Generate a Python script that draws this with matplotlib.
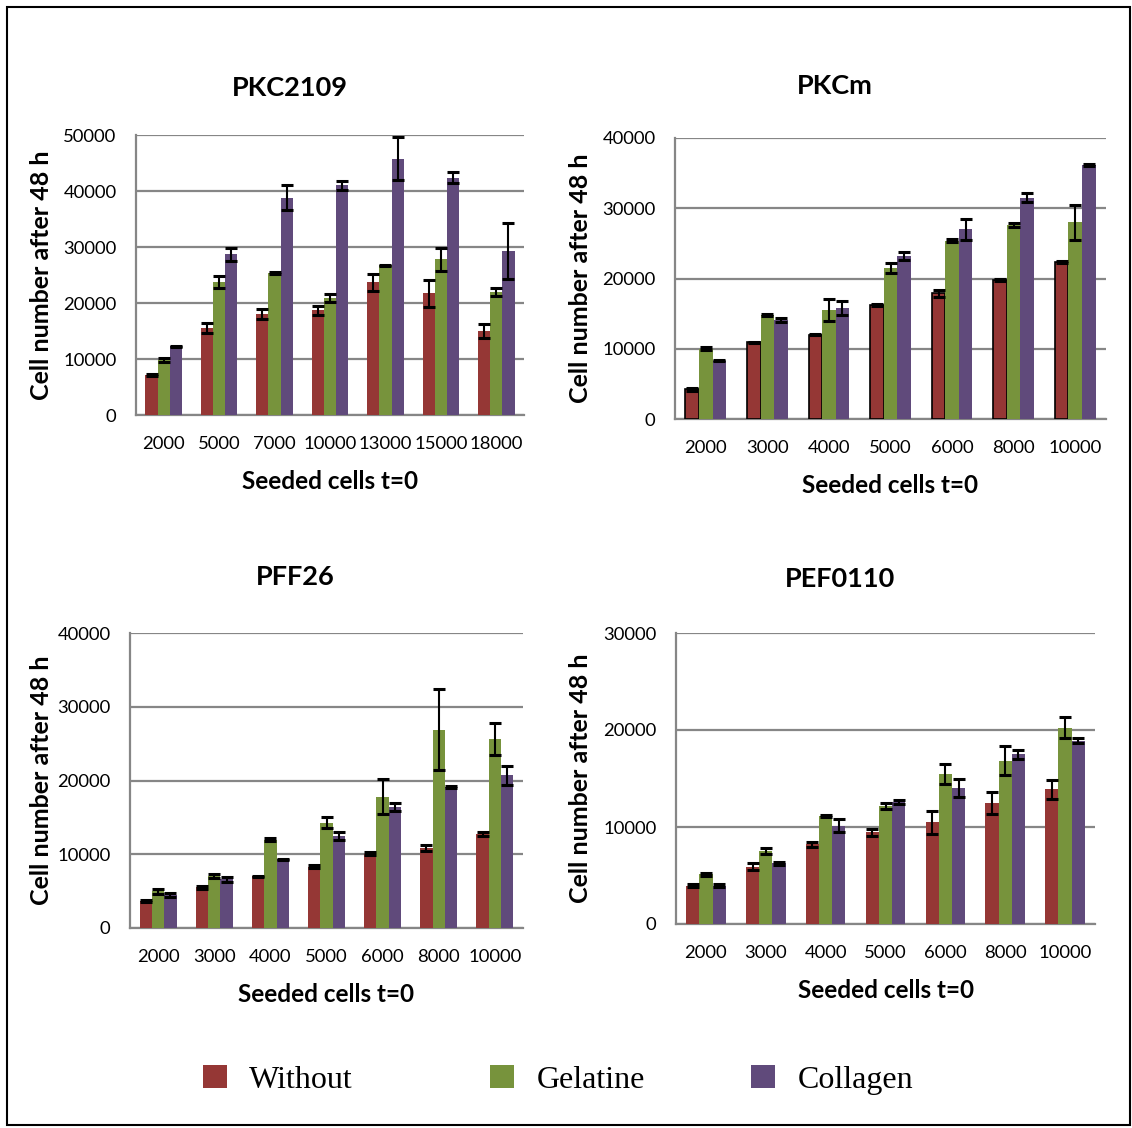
import numpy as np
import matplotlib
matplotlib.use("Agg")
import matplotlib.pyplot as plt
from matplotlib.patches import Rectangle

plt.rcParams['font.family'] = ['Lato', 'DejaVu Sans']

series = ['Without', 'Gelatine', 'Collagen']
colors = ['#953735', '#77933C', '#604A7B']

# PKC2109
pkc2109_x = ['2000', '5000', '7000', '10000', '13000', '15000', '18000']
pkc2109_without = [7100, 15500, 18000, 18700, 23700, 21700, 15000]
pkc2109_gelatine = [9800, 23800, 25300, 20900, 26700, 27800, 21900]
pkc2109_collagen = [12300, 28700, 38800, 41000, 45800, 42400, 29300]
pkc2109_without_err = [150, 900, 900, 770, 1550, 2450, 1200]
pkc2109_gelatine_err = [300, 1100, 200, 650, 150, 2000, 700]
pkc2109_collagen_err = [100, 1150, 2250, 850, 3850, 1000, 5000]

# PKCm
pkcm_x = ['2000', '3000', '4000', '5000', '6000', '8000', '10000']
pkcm_without = [4200, 10900, 12000, 16200, 17900, 19800, 22400]
pkcm_gelatine = [10000, 14800, 15500, 21500, 25400, 27600, 28000]
pkcm_collagen = [8300, 14100, 15800, 23200, 27000, 31500, 36100]
pkcm_without_err = [150, 100, 100, 150, 470, 150, 150]
pkcm_gelatine_err = [200, 100, 1600, 730, 200, 300, 2450]
pkcm_collagen_err = [100, 300, 950, 520, 1500, 640, 150]

# PFF26
pff26_x = ['2000', '3000', '4000', '5000', '6000', '8000', '10000']
pff26_without = [3700, 5500, 7000, 8300, 10100, 10900, 12700]
pff26_gelatine = [4950, 7050, 12000, 14300, 17800, 26900, 25600]
pff26_collagen = [4500, 6600, 9300, 12500, 16400, 19100, 20700]
pff26_without_err = [150, 150, 100, 200, 250, 400, 250]
pff26_gelatine_err = [300, 300, 250, 720, 2350, 5450, 2150]
pff26_collagen_err = [300, 300, 50, 500, 500, 150, 1250]

# PEF0110
pef0110_x = ['2000', '3000', '4000', '5000', '6000', '8000', '10000']
pef0110_without = [3950, 5900, 8200, 9450, 10500, 12450, 13900]
pef0110_gelatine = [5150, 7550, 11150, 12200, 15500, 16850, 20250]
pef0110_collagen = [3950, 6250, 10150, 12600, 14050, 17500, 18900]
pef0110_without_err = [150, 380, 300, 380, 1200, 1140, 980]
pef0110_gelatine_err = [150, 300, 100, 300, 1030, 1500, 1080]
pef0110_collagen_err = [150, 170, 670, 200, 950, 480, 250]

panels = [
    dict(title='PKC2109', cats=pkc2109_x,
         vals=[pkc2109_without, pkc2109_gelatine, pkc2109_collagen],
         errs=[pkc2109_without_err, pkc2109_gelatine_err, pkc2109_collagen_err],
         ymax=50000, step=10000, pos=[136, 135, 524, 415],
         title_xy=(290, 88), ylab_x=42, red_edge=False),
    dict(title='PKCm', cats=pkcm_x,
         vals=[pkcm_without, pkcm_gelatine, pkcm_collagen],
         errs=[pkcm_without_err, pkcm_gelatine_err, pkcm_collagen_err],
         ymax=40000, step=10000, pos=[675, 138, 1106, 419],
         title_xy=(835, 86), ylab_x=580, red_edge=True),
    dict(title='PFF26', cats=pff26_x,
         vals=[pff26_without, pff26_gelatine, pff26_collagen],
         errs=[pff26_without_err, pff26_gelatine_err, pff26_collagen_err],
         ymax=40000, step=10000, pos=[130, 633, 523, 928],
         title_xy=(295, 577), ylab_x=42, red_edge=False),
    dict(title='PEF0110', cats=pef0110_x,
         vals=[pef0110_without, pef0110_gelatine, pef0110_collagen],
         errs=[pef0110_without_err, pef0110_gelatine_err, pef0110_collagen_err],
         ymax=30000, step=10000, pos=[676, 633, 1095, 924],
         title_xy=(840, 579), ylab_x=580, red_edge=False),
]

W, H = 1132, 1128
fig = plt.figure(figsize=(W / 100, H / 100), dpi=100)
grid_c = '#868686'
w = 0.22
handles = []

for p in panels:
    l, t, r, b = p['pos']
    ax = fig.add_axes([l / W, 1 - b / H, (r - l) / W, (b - t) / H])
    x = np.arange(len(p['cats']))
    for k in range(3):
        edge = 'black' if (k == 0 and p['red_edge']) else 'none'
        bars = ax.bar(x + (k - 1) * w, p['vals'][k], w, color=colors[k],
                      edgecolor=edge, linewidth=1.2,
                      yerr=p['errs'][k], capsize=4,
                      error_kw=dict(ecolor='black', elinewidth=1.5, capthick=2.2),
                      zorder=3, label=series[k])
        if p is panels[0]:
            handles.append(bars)
    ax.set_xlim(-0.5, len(p['cats']) - 0.5)
    ax.set_ylim(0, p['ymax'])
    ax.set_yticks(np.arange(0, p['ymax'] + 1, p['step']))
    ax.set_xticks(x)
    ax.set_xticklabels(p['cats'])
    ax.yaxis.grid(True, color=grid_c, linewidth=1.6, zorder=0)
    ax.set_axisbelow(True)
    for s in ['top', 'right']:
        ax.spines[s].set_visible(False)
    for s in ['left', 'bottom']:
        ax.spines[s].set_color(grid_c)
        ax.spines[s].set_linewidth(1.6)
    ax.tick_params(axis='both', length=0, labelsize=13.3)
    ax.tick_params(axis='y', pad=14)
    ax.tick_params(axis='x', pad=15)
    ax.set_xlabel('Seeded cells t=0', fontsize=17.5, fontweight='bold', labelpad=13)
    fig.text(p['title_xy'][0] / W, 1 - p['title_xy'][1] / H, p['title'],
             fontsize=19.5, fontweight='bold', ha='center', va='center')
    fig.text(p['ylab_x'] / W, 1 - ((t + b) / 2) / H, 'Cell number after 48 h',
             fontsize=18, fontweight='bold', rotation=90, ha='center', va='center')

# one legend entry per series, placed like the original
legend_x = [203, 490, 751]
for h, name, lx in zip(handles, series, legend_x):
    fig.legend(handles=[h], labels=[name], loc='center left',
               bbox_to_anchor=(lx / W, 1 - 1080 / H), frameon=False,
               prop=dict(family='Liberation Serif', size=23),
               handlelength=0.75, handleheight=0.75, handletextpad=0.7,
               borderpad=0, borderaxespad=0)

fig.patches.append(Rectangle((7 / W, 3 / H), (W - 9) / W, (H - 10) / H,
                             transform=fig.transFigure, fill=False,
                             edgecolor='black', linewidth=1.5))

fig.savefig('out.png', dpi=100)
